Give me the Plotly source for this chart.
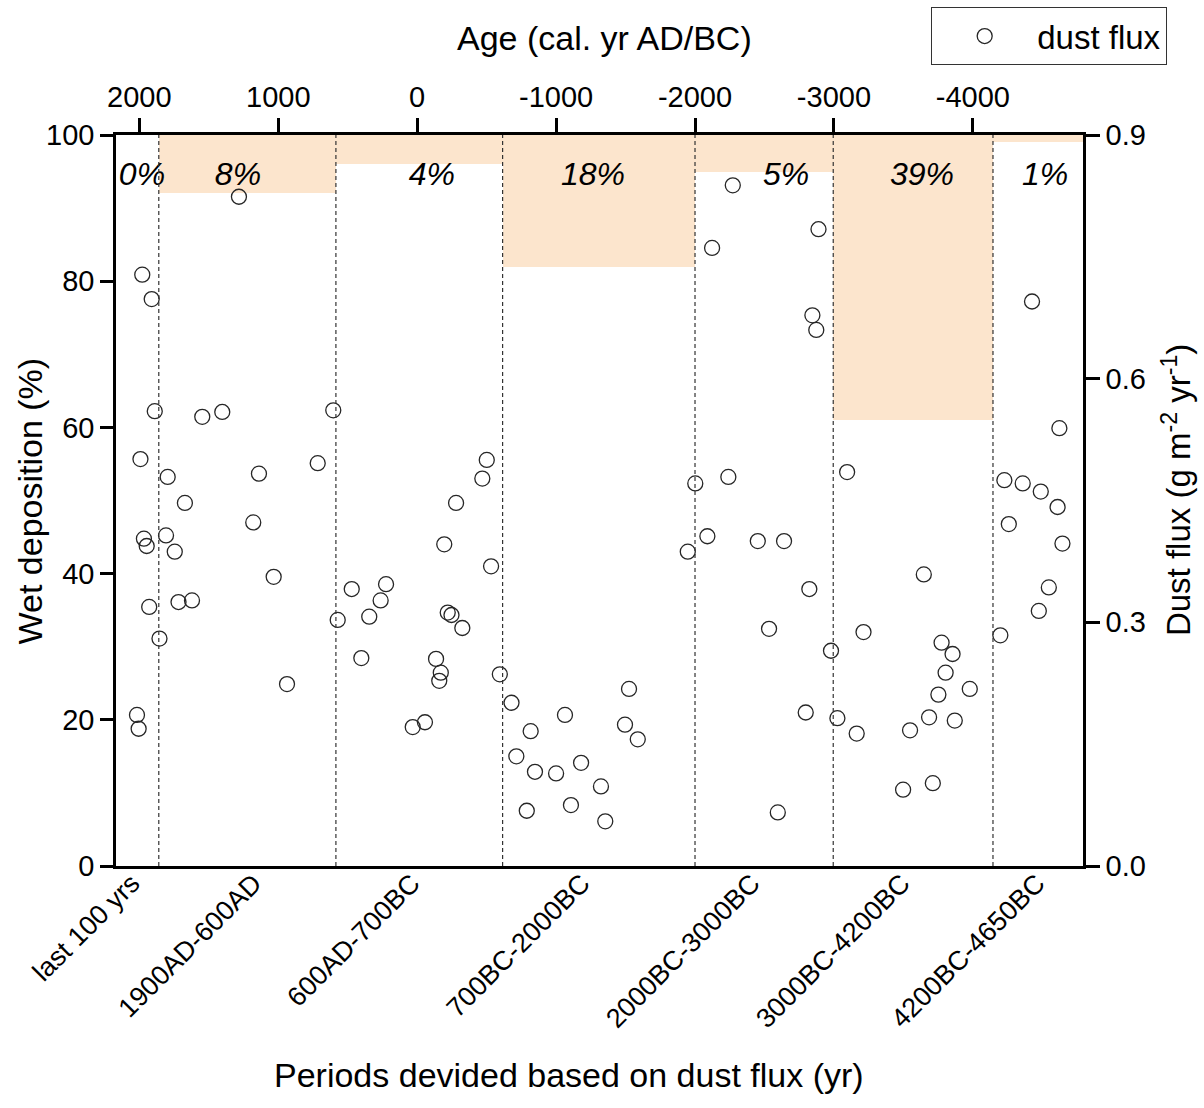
import plotly.graph_objects as go

# Sample ages (cal. yr AD/BC, negative = BC) and dust flux (g m-2 yr-1)
age = [1979, 1911, 1889, 1992, 1967, 1947, 1929, 1855, 2017, 2005,
       1283, 1547, 1403, 604, 1796, 1139, 716, 1672, 1180, 1808, 1745, 1033, 1718, 1621, 937,
       572, 471, 224, 263, 345, 402, -501, -469, -280, -195, -532, -220, -247, -325, -136,
       -170, -159, -595, -56, 32,
       -679, -714, -789, -817, -848, -1000, -1064, -1107, -1180, -1323, -1354, -1496, -1525,
       -1588, -1948,
       -2002, -2089, -2123, -2240, -2272, -2452, -2641, -2533, -2596, -2797, -2823, -2845,
       -2873, -2889, -2979, -3025,
       -3095, -3164, -3213, -3498, -3548, -3647, -3685, -3712, -3752, -3775, -3804, -3854,
       -3870, -3978,
       -4198, -4227, -4259, -4359, -4426, -4475, -4489, -4547, -4610, -4623, -4645]
dust_flux = [0.728, 0.698, 0.560, 0.501, 0.403, 0.394, 0.319, 0.280, 0.186, 0.169,
             0.824, 0.553, 0.559, 0.561, 0.479, 0.483, 0.496, 0.447, 0.423, 0.407, 0.387,
             0.356, 0.325, 0.327, 0.224,
             0.303, 0.341, 0.347, 0.327, 0.307, 0.256, 0.500, 0.477, 0.447, 0.396, 0.369,
             0.312, 0.309, 0.293, 0.255, 0.238, 0.228, 0.236, 0.177, 0.171,
             0.201, 0.135, 0.068, 0.166, 0.116, 0.114, 0.186, 0.075, 0.127, 0.098, 0.055,
             0.174, 0.218, 0.156, 0.387,
             0.471, 0.406, 0.761, 0.479, 0.838, 0.400, 0.400, 0.292, 0.066, 0.189, 0.341,
             0.678, 0.660, 0.784, 0.265, 0.182,
             0.485, 0.163, 0.288, 0.094, 0.167, 0.359, 0.183, 0.102, 0.211, 0.275, 0.238,
             0.261, 0.179, 0.218,
             0.284, 0.475, 0.421, 0.471, 0.695, 0.314, 0.461, 0.343, 0.442, 0.539, 0.397]

# Periods and their share of wet deposition
period_edges = [2168, 1860, 585, -615, -2000, -2995, -4145, -4793]
period_labels = ["last 100 yrs", "1900AD-600AD", "600AD-700BC", "700BC-2000BC",
                 "2000BC-3000BC", "3000BC-4200BC", "4200BC-4650BC"]
wet_deposition = [0, 8, 4, 18, 5, 39, 1]
pct_label_age = [1981, 1290, -106, -1265, -2655, -3634, -4520]
category_tick_age = [2054, 1176, 38, -1186, -2410, -3490, -4462]

age_ticks = [2000, 1000, 0, -1000, -2000, -3000, -4000]
age_tick_text = ["2000", "1000", "0", "-1000", "-2000", "-3000", "-4000"]

FONT = "Liberation Sans, Arial, sans-serif"
AXIS_W = 2.5

centers = [(period_edges[i] + period_edges[i + 1]) / 2 for i in range(len(wet_deposition))]
widths = [abs(period_edges[i] - period_edges[i + 1]) for i in range(len(wet_deposition))]

fig = go.Figure()

# Wet deposition share hanging from the top of the frame
fig.add_trace(go.Bar(
    x=centers, y=[-v for v in wet_deposition], base=100, width=widths,
    marker=dict(color="#FCE5CD", line=dict(width=0)),
    xaxis="x", yaxis="y", showlegend=False, hoverinfo="skip",
))

# Percentage labels
fig.add_trace(go.Scatter(
    x=pct_label_age, y=[94.2] * len(wet_deposition),
    text=[f"{v}%" for v in wet_deposition], mode="text",
    textfont=dict(family=FONT, size=32, color="black", style="italic"),
    xaxis="x", yaxis="y", showlegend=False, hoverinfo="skip",
))

# Carrier for the period axis at the bottom
fig.add_trace(go.Scatter(
    x=category_tick_age, y=[0] * len(category_tick_age), mode="markers",
    marker=dict(size=1, opacity=0), xaxis="x2", yaxis="y",
    showlegend=False, hoverinfo="skip",
))

# Dust flux samples
fig.add_trace(go.Scatter(
    x=age, y=dust_flux, mode="markers", name="dust flux",
    marker=dict(symbol="circle-open", size=15, color="#262626", line=dict(width=1.3)),
    xaxis="x", yaxis="y2",
))

# Period boundaries
shapes = []
for e in period_edges[1:-1]:
    shapes.append(dict(type="line", xref="x", yref="paper", x0=e, x1=e, y0=0, y1=1,
                       line=dict(color="#333333", width=1.2, dash="4px,3px"), layer="above"))

x_range = [period_edges[0], period_edges[-1]]

title_font = dict(family=FONT, size=34, color="black")
annotations = [
    dict(text="Age (cal. yr AD/BC)", xref="paper", yref="paper", x=0.505, y=1.1327,
         xanchor="center", yanchor="middle", showarrow=False, font=title_font),
    dict(text="Periods devided based on dust flux (yr)", xref="paper", yref="paper",
         x=0.468, y=-0.286, xanchor="center", yanchor="middle", showarrow=False,
         font=title_font),
    dict(text="Wet deposition (%)", xref="paper", yref="paper", x=-0.089, y=0.5,
         xanchor="center", yanchor="middle", textangle=-90, showarrow=False,
         font=title_font),
    dict(text="Dust flux (g m<sup>-2</sup> yr<sup>-1</sup>)", xref="paper", yref="paper",
         x=1.097, y=0.514, xanchor="center", yanchor="middle", textangle=-90,
         showarrow=False, font=dict(family=FONT, size=33, color="black")),
]

fig.update_layout(
    width=1204, height=1108,
    margin=dict(l=116, r=121, t=135, b=242, pad=0, autoexpand=False),
    paper_bgcolor="white", plot_bgcolor="white",
    font=dict(family=FONT, size=29, color="black"),
    bargap=0,
    xaxis=dict(
        side="top", range=x_range, tickvals=age_ticks, ticktext=age_tick_text,
        ticks="outside", ticklen=14, tickwidth=AXIS_W, tickcolor="black",
        showline=True, linewidth=AXIS_W, linecolor="black", showgrid=False, zeroline=False,
        tickfont=dict(size=29), anchor="y",
    ),
    xaxis2=dict(
        overlaying="x", side="bottom", range=x_range, tickvals=category_tick_age,
        ticktext=period_labels, tickangle=-45, ticks="", showline=True, linewidth=AXIS_W,
        linecolor="black", showgrid=False, zeroline=False, tickfont=dict(size=27),
        ticklabelstandoff=-12, anchor="y",
    ),
    yaxis=dict(
        range=[0, 100], tickvals=[0, 20, 40, 60, 80, 100], ticks="outside", ticklen=13,
        tickwidth=AXIS_W, tickcolor="black", showline=True, linewidth=AXIS_W,
        linecolor="black", showgrid=False, zeroline=False, tickfont=dict(size=29),
    ),
    yaxis2=dict(
        overlaying="y", side="right", range=[0, 0.9], tickvals=[0, 0.3, 0.6, 0.9],
        tickformat=".1f", ticks="outside", ticklen=14, tickwidth=AXIS_W, tickcolor="black",
        showline=True, linewidth=AXIS_W, linecolor="black", showgrid=False, zeroline=False,
        tickfont=dict(size=29), anchor="x",
    ),
    legend=dict(
        x=0.843, y=1.175, xanchor="left", yanchor="top",
        bordercolor="#333333", borderwidth=1, bgcolor="white",
        itemwidth=95,
        font=dict(family=FONT, size=33, color="black"),
    ),
    shapes=shapes,
    annotations=annotations,
)

fig.write_html("out.html")
